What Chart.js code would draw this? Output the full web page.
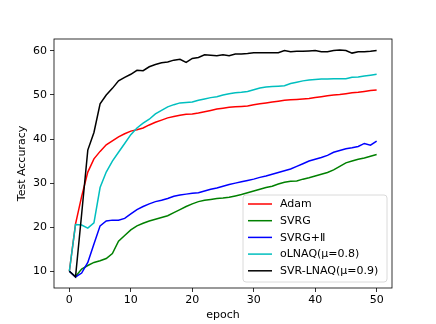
<!DOCTYPE html>
<html>
<head>
<meta charset="utf-8">
<script src="https://cdn.jsdelivr.net/npm/chart.js@4/dist/chart.umd.min.js"></script>
<style>
html,body{margin:0;padding:0;background:#fff;}
#wrap{width:436px;height:324px;position:relative;}
</style>
</head>
<body>
<div id="wrap"><canvas id="c" width="436" height="324"></canvas></div>
<script>
const epochs = Array.from({length: 51}, (_, i) => i);
const seriesNames = ["Adam", "SVRG", "SVRG+\u2161", "oLNAQ(\u03bc=0.8)", "SVR-LNAQ(\u03bc=0.9)"];
const seriesColors = ["#ff0000", "#008000", "#0000ff", "#00bfbf", "#000000"];
const xTicks = [0, 10, 20, 30, 40, 50];
const yTicks = [10, 20, 30, 40, 50, 60];

const adam = [10, 20.7, 27, 32.5, 35.5, 37.2, 38.7, 39.6, 40.5, 41.2, 41.8, 42.1, 42.5, 43.2, 43.8, 44.3, 44.8, 45.1, 45.4, 45.6, 45.7, 45.9, 46.2, 46.5, 46.8, 47.0, 47.2, 47.3, 47.4, 47.5, 47.8, 48.0, 48.2, 48.4, 48.6, 48.8, 48.9, 49.0, 49.1, 49.2, 49.4, 49.6, 49.8, 50.0, 50.1, 50.3, 50.5, 50.6, 50.8, 51.0, 51.1];
const svrg = [10, 8.8, 10.5, 11.3, 12.0, 12.4, 12.9, 14.0, 16.8, 18.1, 19.4, 20.3, 20.9, 21.4, 21.8, 22.2, 22.6, 23.3, 24.0, 24.7, 25.3, 25.8, 26.1, 26.3, 26.5, 26.6, 26.8, 27.1, 27.4, 27.8, 28.2, 28.6, 29.0, 29.3, 29.8, 30.2, 30.4, 30.5, 30.9, 31.2, 31.6, 32.0, 32.4, 33.0, 33.8, 34.6, 35.0, 35.4, 35.7, 36.1, 36.5];
const svrgII = [10, 8.7, 9.6, 12.0, 16.2, 20.3, 21.4, 21.6, 21.6, 22.0, 23.0, 24.0, 24.7, 25.3, 25.8, 26.1, 26.5, 27.0, 27.3, 27.5, 27.7, 27.8, 28.2, 28.6, 28.9, 29.3, 29.7, 30.0, 30.3, 30.6, 30.9, 31.3, 31.6, 32.0, 32.4, 32.8, 33.2, 33.8, 34.4, 35.0, 35.4, 35.8, 36.3, 37.0, 37.4, 37.8, 38.0, 38.3, 39.0, 38.6, 39.5];
const olnaq = [10, 20.6, 20.5, 19.8, 21.0, 29.0, 32.5, 35.0, 37.0, 39.0, 41.0, 42.5, 43.6, 44.5, 45.7, 46.5, 47.3, 47.8, 48.2, 48.3, 48.4, 48.8, 49.1, 49.4, 49.6, 50.0, 50.3, 50.5, 50.6, 50.8, 51.2, 51.6, 51.8, 51.9, 52.0, 52.1, 52.6, 52.9, 53.2, 53.4, 53.5, 53.6, 53.6, 53.7, 53.7, 53.7, 54.0, 54.1, 54.3, 54.5, 54.7];
const svrLnaq = [10, 8.7, 23, 37.5, 41.5, 48.0, 50.0, 51.5, 53.2, 54.0, 54.7, 55.6, 55.5, 56.4, 56.9, 57.3, 57.5, 57.9, 58.1, 57.4, 58.3, 58.5, 59.1, 59.0, 58.9, 59.1, 58.9, 59.3, 59.3, 59.4, 59.6, 59.6, 59.6, 59.6, 59.6, 60.1, 59.8, 59.9, 59.9, 60.0, 60.1, 59.8, 59.8, 60.1, 60.2, 60.1, 59.5, 59.8, 59.8, 59.9, 60.1];

const seriesData = [adam, svrg, svrgII, olnaq, svrLnaq];
const FONT = "'DejaVu Sans', sans-serif";
const FS = 11;

const datasets = seriesData.map((arr, i) => ({
  label: seriesNames[i],
  data: arr.map((v, k) => ({x: epochs[k], y: v})),
  borderColor: seriesColors[i],
  backgroundColor: seriesColors[i],
  borderWidth: 1.5,
  pointRadius: 0,
  tension: 0,
  fill: false,
  order: seriesData.length - i
}));

const framePlugin = {
  id: 'frame',
  afterDatasetsDraw(chart) {
    const a = chart.chartArea, ctx = chart.ctx;
    ctx.save();
    ctx.strokeStyle = '#000';
    ctx.lineWidth = 0.8;
    ctx.strokeRect(a.left, a.top, a.right - a.left, a.bottom - a.top);
    ctx.restore();
  }
};

const legendPlugin = {
  id: 'mplLegend',
  afterDraw(chart) {
    const ctx = chart.ctx;
    const x0 = 243, y0 = 195, w = 144, h = 87, r = 3;
    ctx.save();
    ctx.beginPath();
    ctx.moveTo(x0 + r, y0);
    ctx.lineTo(x0 + w - r, y0);
    ctx.quadraticCurveTo(x0 + w, y0, x0 + w, y0 + r);
    ctx.lineTo(x0 + w, y0 + h - r);
    ctx.quadraticCurveTo(x0 + w, y0 + h, x0 + w - r, y0 + h);
    ctx.lineTo(x0 + r, y0 + h);
    ctx.quadraticCurveTo(x0, y0 + h, x0, y0 + h - r);
    ctx.lineTo(x0, y0 + r);
    ctx.quadraticCurveTo(x0, y0, x0 + r, y0);
    ctx.closePath();
    ctx.fillStyle = 'rgba(255,255,255,0.8)';
    ctx.fill();
    ctx.strokeStyle = '#d0d0d0';
    ctx.lineWidth = 0.8;
    ctx.stroke();
    ctx.font = FS + 'px ' + FONT;
    ctx.textBaseline = 'middle';
    ctx.textAlign = 'left';
    chart.data.datasets.forEach((ds, i) => {
      const y = 204 + i * 16.7;
      ctx.strokeStyle = ds.borderColor;
      ctx.lineWidth = 1.5;
      ctx.beginPath();
      ctx.moveTo(248, y);
      ctx.lineTo(272, y);
      ctx.stroke();
      ctx.fillStyle = '#000';
      ctx.fillText(ds.label, 280, y + 0.5);
    });
    ctx.restore();
  }
};

new Chart(document.getElementById('c'), {
  type: 'line',
  data: { datasets },
  options: {
    responsive: false,
    animation: false,
    devicePixelRatio: 1,
    layout: { padding: { left: 0, top: 39, right: 44, bottom: 0 } },
    plugins: { legend: { display: false }, tooltip: { enabled: false } },
    scales: {
      x: {
        type: 'linear',
        min: -2.5, max: 52.5,
        afterBuildTicks(s) { s.ticks = xTicks.map(v => ({value: v})); },
        afterFit(s) { s.height = 36; },
        grid: { drawOnChartArea: false, drawTicks: true, tickLength: 4, color: '#000', lineWidth: 0.8 },
        border: { display: false },
        ticks: { color: '#000', font: { family: FONT, size: FS }, padding: 2, maxRotation: 0 },
        title: { display: true, text: 'epoch', color: '#000', font: { family: FONT, size: FS }, padding: { top: 0, bottom: 2 } }
      },
      y: {
        type: 'linear',
        min: 6.2, max: 62.7,
        afterBuildTicks(s) { s.ticks = yTicks.map(v => ({value: v})); },
        afterFit(s) { s.width = 54; },
        grid: { drawOnChartArea: false, drawTicks: true, tickLength: 4, color: '#000', lineWidth: 0.8 },
        border: { display: false },
        ticks: { color: '#000', font: { family: FONT, size: FS }, padding: 3 },
        title: { display: true, text: 'Test Accuracy', color: '#000', font: { family: FONT, size: FS }, padding: { top: 16, bottom: 0 } }
      }
    }
  },
  plugins: [framePlugin, legendPlugin]
});
</script>
</body>
</html>
